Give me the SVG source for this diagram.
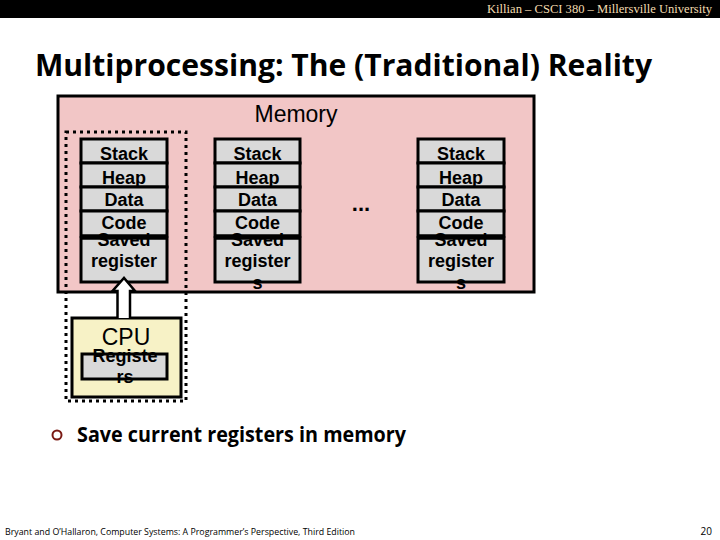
<svg xmlns="http://www.w3.org/2000/svg" width="720" height="540" viewBox="0 0 720 540">
<style>
.cell{fill:#d9d9d9;stroke:#000;stroke-width:3}
.ct{font-family:"Liberation Sans",Arial,sans-serif;font-weight:bold;font-size:18px;text-anchor:middle;fill:#000}
.sans{font-family:"Liberation Sans",Arial,sans-serif}
.cal{font-family:"Open Sans","Liberation Sans",sans-serif;font-weight:bold}
</style>
<rect x="0" y="0" width="720" height="540" fill="#fff"/>
<rect x="0" y="0" width="720" height="18" fill="#000"/>
<text x="712" y="13" text-anchor="end" font-family="Liberation Serif,serif" font-size="12" fill="#f3dcb0" textLength="225" lengthAdjust="spacingAndGlyphs">Killian – CSCI 380 – Millersville University</text>
<text x="35" y="76" class="cal" font-size="30" fill="#000" textLength="617" lengthAdjust="spacingAndGlyphs">Multiprocessing: The (Traditional) Reality</text>

<g id="memory">
<rect x="58" y="96" width="476" height="196" fill="#f2c6c6" stroke="#000" stroke-width="3"/>
<text x="296" y="122" class="sans" font-size="23" text-anchor="middle">Memory</text>
<text x="361" y="211" class="sans" font-size="22" font-weight="bold" text-anchor="middle">...</text>
</g>

<g id="process1">
<rect class="cell" x="81" y="139" width="86" height="24"/>
<rect class="cell" x="81" y="163" width="86" height="24"/>
<rect class="cell" x="81" y="187" width="86" height="24"/>
<rect class="cell" x="81" y="211" width="86" height="25"/>
<rect class="cell" x="81" y="238" width="86" height="44"/>
<text class="ct" x="124" y="160">Stack</text>
<text class="ct" x="124" y="184">Heap</text>
<text class="ct" x="124" y="206">Data</text>
<text class="ct" x="124" y="229">Code</text>
<text class="ct" x="124" y="246">Saved</text>
<text class="ct" x="124" y="267">register</text>
<rect x="81" y="234.5" width="86" height="3" fill="#000"/>
<rect x="81" y="237" width="86" height="2.5" fill="#000"/>
</g>

<g id="process2">
<rect class="cell" x="215" y="139" width="85" height="24"/>
<rect class="cell" x="215" y="163" width="85" height="24"/>
<rect class="cell" x="215" y="187" width="85" height="24"/>
<rect class="cell" x="215" y="211" width="85" height="25"/>
<rect class="cell" x="215" y="238" width="85" height="44"/>
<text class="ct" x="257.5" y="160">Stack</text>
<text class="ct" x="257.5" y="184">Heap</text>
<text class="ct" x="257.5" y="206">Data</text>
<text class="ct" x="257.5" y="229">Code</text>
<text class="ct" x="257.5" y="246">Saved</text>
<text class="ct" x="257.5" y="267">register</text>
<text class="ct" x="257.5" y="289">s</text>
<rect x="215" y="234.5" width="85" height="3" fill="#000"/>
<rect x="215" y="237" width="85" height="2.5" fill="#000"/>
</g>

<g id="process3">
<rect class="cell" x="418" y="139" width="86" height="24"/>
<rect class="cell" x="418" y="163" width="86" height="24"/>
<rect class="cell" x="418" y="187" width="86" height="24"/>
<rect class="cell" x="418" y="211" width="86" height="25"/>
<rect class="cell" x="418" y="238" width="86" height="44"/>
<text class="ct" x="461" y="160">Stack</text>
<text class="ct" x="461" y="184">Heap</text>
<text class="ct" x="461" y="206">Data</text>
<text class="ct" x="461" y="229">Code</text>
<text class="ct" x="461" y="246">Saved</text>
<text class="ct" x="461" y="267">register</text>
<text class="ct" x="461" y="289">s</text>
<rect x="418" y="234.5" width="86" height="3" fill="#000"/>
<rect x="418" y="237" width="86" height="2.5" fill="#000"/>
</g>

<g id="selection">
<rect x="66" y="132" width="120" height="269" fill="none" stroke="#000" stroke-width="3" stroke-dasharray="3 4"/>
</g>

<g id="cpu">
<rect x="72" y="318" width="109" height="79" fill="#f7f2c6" stroke="#000" stroke-width="3"/>
<text x="126" y="345" class="sans" font-size="23" text-anchor="middle">CPU</text>
<rect x="82" y="354" width="85" height="25" fill="#d9d9d9" stroke="#000" stroke-width="3"/>
<text class="ct" x="125" y="362" font-size="17">Registe</text>
<text class="ct" x="125" y="383" font-size="17">rs</text>
</g>

<g id="connectors">
<path d="M117.5,318 L117.5,291 L112.5,291 L124,278 L135,291 L130,291 L130,318" fill="#fff" stroke="#000" stroke-width="2.5" stroke-linejoin="miter"/>
</g>

<g id="bullet">
<circle cx="57" cy="435" r="4.5" fill="none" stroke="#7a1a14" stroke-width="2"/>
<text x="77" y="442" class="cal" font-size="22" fill="#000" textLength="329" lengthAdjust="spacingAndGlyphs">Save current registers in memory</text>
</g>

<text x="5" y="535" font-family="Open Sans,Liberation Sans,sans-serif" font-size="9" fill="#000" textLength="350" lengthAdjust="spacingAndGlyphs">Bryant and O’Hallaron, Computer Systems: A Programmer’s Perspective, Third Edition</text>
<text x="712" y="535" font-family="Open Sans,Liberation Sans,sans-serif" font-size="10" text-anchor="end" fill="#000">20</text>
</svg>
